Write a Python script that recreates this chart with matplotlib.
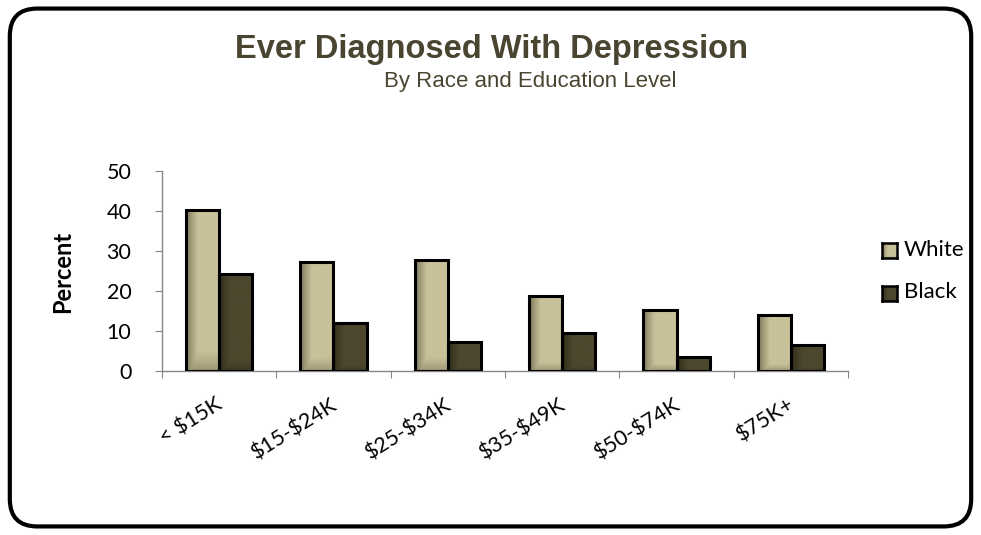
import numpy as np
import matplotlib
matplotlib.use("Agg")
import matplotlib.pyplot as plt
from matplotlib.patches import FancyBboxPatch, Rectangle
from matplotlib.colors import to_rgb

categories = ["< $15K", "$15-$24K", "$25-$34K", "$35-$49K", "$50-$74K", "$75K+"]
white = [40.2, 27.2, 27.7, 18.7, 15.2, 14.0]
black = [24.2, 12.0, 7.3, 9.6, 3.5, 6.5]
series_names = ["White", "Black"]

light_main = to_rgb("#c8c199")
light_edge = to_rgb("#6e694f")
dark_main = to_rgb("#4d472e")
dark_edge = to_rgb("#2b2818")


def gradient_image(main, edge, n=64):
    # horizontal shade: darker on the left edge, plus a darker band at the top
    x = np.linspace(0, 1, n)
    y = np.linspace(0, 1, n)
    hx = np.clip(x / 0.35, 0, 1) ** 0.7
    hy = np.clip((1 - y) / 0.12, 0, 1) ** 0.8
    w = np.minimum(hx[None, :], 0.5 + 0.5 * hy[:, None])
    img = np.empty((n, n, 3))
    for c in range(3):
        img[:, :, c] = edge[c] + (main[c] - edge[c]) * w
    return img


fig = plt.figure(figsize=(9.81, 5.35), dpi=100)
fig.patch.set_facecolor("white")

border = FancyBboxPatch((0.010, 0.016), 0.980, 0.968,
                        boxstyle="round,pad=0,rounding_size=0.028",
                        transform=fig.transFigure, facecolor="none",
                        edgecolor="black", linewidth=3,
                        mutation_aspect=981 / 535, zorder=10)
fig.patches.append(border)

ax = fig.add_axes([0.165, 0.3065, 0.6995, 0.3738])
ax.set_facecolor("none")

bw = 0.29
x = np.arange(len(categories)) + 0.5
img_w = gradient_image(light_main, light_edge)
img_b = gradient_image(dark_main, dark_edge)
for xi, vw, vb in zip(x, white, black):
    for left, val, img in ((xi - bw, vw, img_w), (xi, vb, img_b)):
        rect = Rectangle((left, 0), bw, val, facecolor="none",
                         edgecolor="black", linewidth=2.2, zorder=3)
        ax.add_patch(rect)
        im = ax.imshow(img, extent=(left, left + bw, 0, val), origin="upper",
                       aspect="auto", zorder=2, interpolation="bilinear")
        im.set_clip_path(rect)
ax.set_xlim(0, len(categories))
ax.set_ylim(0, 50)

for s in ["top", "right"]:
    ax.spines[s].set_visible(False)
for s in ["left", "bottom"]:
    ax.spines[s].set_color("#868686")
    ax.spines[s].set_linewidth(1)

ax.set_yticks([0, 10, 20, 30, 40, 50])
ax.set_xticks(np.arange(len(categories) + 1))
ax.set_xticklabels([])
ax.tick_params(axis="y", direction="out", length=5, color="#868686",
               labelsize=15.5, pad=17)
ax.tick_params(axis="x", direction="out", length=5, color="#868686")
for lab in ax.get_yticklabels():
    lab.set_fontfamily("Lato")

for xi, cat in zip(x, categories):
    ax.text(xi - 0.03, -5.9, cat, rotation=32, ha="right", va="top",
            fontsize=15.5, family="Lato", rotation_mode="anchor",
            parse_math=False)

fig.text(0.064, 0.491, "Percent", rotation=90, ha="center", va="center",
         fontsize=17, fontweight="bold", family="Lato")

fig.text(0.501, 0.908, "Ever Diagnosed With Depression", ha="center",
         va="center", fontsize=23.5, fontweight="bold", color="#4a4530",
         family="Liberation Sans")
fig.text(0.541, 0.847, "By Race and Education Level", ha="center",
         va="center", fontsize=16, color="#4a4530", family="Liberation Sans")

# legend swatches
for yc, ty, name, img in ((0.532, 0.533, series_names[0], img_w),
                          (0.451, 0.454, series_names[1], img_b)):
    sw = fig.add_axes([0.899, yc - 0.014, 0.0153, 0.028])
    sw.imshow(img, aspect="auto", interpolation="bilinear")
    sw.set_xticks([])
    sw.set_yticks([])
    for s in sw.spines.values():
        s.set_linewidth(1.8)
        s.set_color("black")
    fig.text(0.9215, ty, name, ha="left", va="center", fontsize=16,
             family="Lato")

fig.savefig("out.png", dpi=100)
